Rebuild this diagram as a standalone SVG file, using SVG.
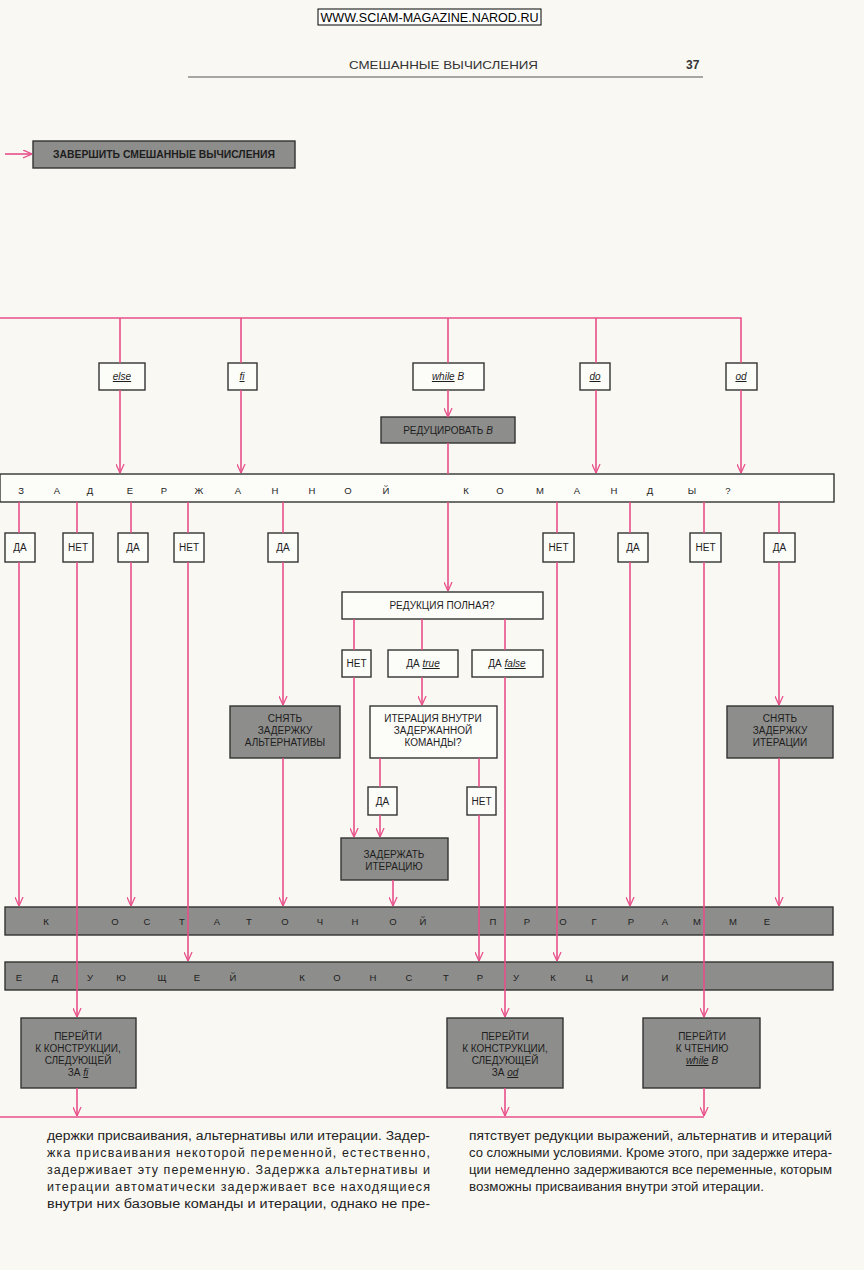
<svg xmlns="http://www.w3.org/2000/svg" width="864" height="1270" viewBox="0 0 864 1270">
<defs>
<marker id="ar" viewBox="0 0 10 10" refX="10" refY="5" markerWidth="9" markerHeight="9" markerUnits="userSpaceOnUse" orient="auto">
<path d="M0,0.5 L10,5 L0,9.5" fill="none" stroke="#e8508a" stroke-width="1.4"/>
</marker>
<style>
.c{fill:none;stroke:#e8508a;stroke-width:1.6}
.ca{fill:none;stroke:#e8508a;stroke-width:1.6;marker-end:url(#ar)}
.g{fill:#8d8d8b;stroke:#333;stroke-width:1.4}
.w{fill:#fcfcf9;stroke:#333;stroke-width:1.4}
.t{font-family:"Liberation Sans",Arial,sans-serif;font-size:10px;fill:#1e1e1e;text-anchor:middle}
.b{font-family:"Liberation Sans",Arial,sans-serif;font-size:9.5px;fill:#1e1e1e;text-anchor:middle}
.i{font-style:italic;text-decoration:underline}
.it{font-style:italic}
.p{font-family:"Liberation Sans",Arial,sans-serif;font-size:12.5px;fill:#222}
</style>
</defs>
<rect x="0" y="0" width="864" height="1270" fill="#f9f8f3"/>

<g id="header">
<rect x="318" y="9" width="223" height="16" fill="#fff" stroke="#000" stroke-width="1"/>
<text x="429.5" y="22" font-family="Liberation Sans,Arial,sans-serif" font-size="13" text-anchor="middle" textLength="218" lengthAdjust="spacingAndGlyphs" fill="#000">WWW.SCIAM-MAGAZINE.NAROD.RU</text>
<text x="349" y="69" font-family="Liberation Sans,Arial,sans-serif" font-size="11.5" textLength="189" lengthAdjust="spacingAndGlyphs" fill="#333">СМЕШАННЫЕ ВЫЧИСЛЕНИЯ</text>
<text x="686" y="69" font-family="Liberation Sans,Arial,sans-serif" font-size="12" font-weight="bold" fill="#333">37</text>
<line x1="188" y1="77" x2="703" y2="77" stroke="#555" stroke-width="1.2"/>
</g>

<g id="finish">
<rect class="g" x="33" y="141" width="262" height="27"/>
<text class="t" x="164" y="158" font-weight="bold" textLength="222" lengthAdjust="spacingAndGlyphs">ЗАВЕРШИТЬ СМЕШАННЫЕ ВЫЧИСЛЕНИЯ</text>
</g>

<g id="kw-else"><rect class="w" x="99" y="363" width="46" height="27"/><text class="t" x="122" y="380"><tspan class="i">else</tspan></text></g>
<g id="kw-fi"><rect class="w" x="228" y="363" width="29" height="27"/><text class="t" x="242" y="380"><tspan class="i">fi</tspan></text></g>
<g id="kw-while"><rect class="w" x="413" y="363" width="71" height="27"/><text class="t" x="448" y="380"><tspan class="i">while</tspan><tspan class="it"> B</tspan></text></g>
<g id="kw-do"><rect class="w" x="580" y="363" width="30" height="27"/><text class="t" x="595" y="380"><tspan class="i">do</tspan></text></g>
<g id="kw-od"><rect class="w" x="726" y="363" width="31" height="27"/><text class="t" x="741" y="380"><tspan class="i">od</tspan></text></g>

<g id="reduce"><rect class="g" x="381" y="417" width="134" height="26"/><text class="t" x="448" y="434">РЕДУЦИРОВАТЬ <tspan class="it">B</tspan></text></g>

<g id="bar-delayed">
<rect class="w" x="0" y="474" width="834" height="28"/>
<text class="b" y="494" x="21 57 90 130 164 199 238 275 312 348 386 466 500 540 577 614 650 692 728">ЗАДЕРЖАННОЙКОМАНДЫ?</text>
</g>

<g id="y1"><rect class="w" x="5" y="533" width="30" height="29"/><text class="t" x="20" y="551">ДА</text></g>
<g id="n1"><rect class="w" x="63" y="533" width="30" height="29"/><text class="t" x="78" y="551">НЕТ</text></g>
<g id="y2"><rect class="w" x="118" y="533" width="30" height="29"/><text class="t" x="133" y="551">ДА</text></g>
<g id="n2"><rect class="w" x="174" y="533" width="30" height="29"/><text class="t" x="189" y="551">НЕТ</text></g>
<g id="y3"><rect class="w" x="268" y="533" width="30" height="29"/><text class="t" x="283" y="551">ДА</text></g>
<g id="n3"><rect class="w" x="543" y="533" width="31" height="29"/><text class="t" x="558.5" y="551">НЕТ</text></g>
<g id="y4"><rect class="w" x="618" y="533" width="30" height="29"/><text class="t" x="633" y="551">ДА</text></g>
<g id="n4"><rect class="w" x="690" y="533" width="31" height="29"/><text class="t" x="705.5" y="551">НЕТ</text></g>
<g id="y5"><rect class="w" x="764" y="533" width="31" height="29"/><text class="t" x="779.5" y="551">ДА</text></g>

<g id="full"><rect class="w" x="342" y="592" width="201" height="27"/><text class="t" x="442" y="609">РЕДУКЦИЯ ПОЛНАЯ?</text></g>
<g id="full-no"><rect class="w" x="342" y="650" width="29" height="27"/><text class="t" x="356.5" y="667">НЕТ</text></g>
<g id="full-true"><rect class="w" x="388" y="650" width="70" height="27"/><text class="t" x="423" y="667">ДА <tspan class="i">true</tspan></text></g>
<g id="full-false"><rect class="w" x="472" y="650" width="71" height="27"/><text class="t" x="507" y="667">ДА <tspan class="i">false</tspan></text></g>

<g id="undelay-alt"><rect class="g" x="230" y="706" width="110" height="52"/><text class="t" x="285" y="722">СНЯТЬ</text><text class="t" x="285" y="734">ЗАДЕРЖКУ</text><text class="t" x="285" y="746">АЛЬТЕРНАТИВЫ</text></g>
<g id="iter-inside"><rect class="w" x="370" y="706" width="127" height="52"/><text class="t" x="433" y="722">ИТЕРАЦИЯ ВНУТРИ</text><text class="t" x="433" y="734">ЗАДЕРЖАННОЙ</text><text class="t" x="433" y="746">КОМАНДЫ?</text></g>
<g id="undelay-iter"><rect class="g" x="727" y="706" width="106" height="52"/><text class="t" x="780" y="722">СНЯТЬ</text><text class="t" x="780" y="734">ЗАДЕРЖКУ</text><text class="t" x="780" y="746">ИТЕРАЦИИ</text></g>

<g id="iter-yes"><rect class="w" x="368" y="787" width="29" height="28"/><text class="t" x="382.5" y="805">ДА</text></g>
<g id="iter-no"><rect class="w" x="467" y="787" width="29" height="28"/><text class="t" x="481.5" y="805">НЕТ</text></g>

<g id="delay-iter"><rect class="g" x="341" y="838" width="107" height="42"/><text class="t" x="394" y="858">ЗАДЕРЖАТЬ</text><text class="t" x="394" y="870">ИТЕРАЦИЮ</text></g>

<g id="bar-rest">
<rect class="g" x="5" y="907" width="828" height="28"/>
<text class="b" y="925" x="46 115 147 182 217 249 285 320 355 393 423 493 527 563 594 631 665 697 733 767">КОСТАТОЧНОЙПРОГРАММЕ</text>
</g>

<g id="bar-next">
<rect class="g" x="5" y="962" width="828" height="28"/>
<text class="b" y="981" x="19 55 90 121 162 197 233 302 337 373 409 446 480 516 553 589 625 665">ЕДУЮЩЕЙКОНСТРУКЦИИ</text>
</g>

<g id="goto-fi"><rect class="g" x="21" y="1018" width="115" height="70"/><text class="t" x="78" y="1040">ПЕРЕЙТИ</text><text class="t" x="78" y="1052">К КОНСТРУКЦИИ,</text><text class="t" x="78" y="1064">СЛЕДУЮЩЕЙ</text><text class="t" x="78" y="1076">ЗА <tspan class="i">fi</tspan></text></g>
<g id="goto-od"><rect class="g" x="447" y="1018" width="116" height="70"/><text class="t" x="505" y="1040">ПЕРЕЙТИ</text><text class="t" x="505" y="1052">К КОНСТРУКЦИИ,</text><text class="t" x="505" y="1064">СЛЕДУЮЩЕЙ</text><text class="t" x="505" y="1076">ЗА <tspan class="i">od</tspan></text></g>
<g id="goto-while"><rect class="g" x="643" y="1018" width="117" height="70"/><text class="t" x="702" y="1040">ПЕРЕЙТИ</text><text class="t" x="702" y="1052">К ЧТЕНИЮ</text><text class="t" x="702" y="1064"><tspan class="i">while</tspan><tspan class="it"> B</tspan></text></g>

<g id="connectors">
<path class="ca" d="M5,154 H32"/>
<path class="c" d="M0,318 H741 V363"/>
<path class="c" d="M120,318 V363"/><path class="ca" d="M120,390 V473"/>
<path class="c" d="M241,318 V363"/><path class="ca" d="M241,390 V473"/>
<path class="c" d="M448,318 V363"/><path class="ca" d="M448,390 V417"/>
<path class="c" d="M596,318 V363"/><path class="ca" d="M596,390 V473"/>
<path class="ca" d="M741,390 V473"/>
<path class="c" d="M448,443 V474"/><path class="ca" d="M448,502 V591"/>

<path class="c" d="M19,502 V533"/><path class="ca" d="M19,562 V906"/>
<path class="c" d="M77,502 V533"/><path class="ca" d="M77,562 V1017"/>
<path class="c" d="M131,502 V533"/><path class="ca" d="M131,562 V906"/>
<path class="c" d="M188,502 V533"/><path class="ca" d="M188,562 V961"/>
<path class="c" d="M283,502 V533"/><path class="ca" d="M283,562 V705"/><path class="ca" d="M283,758 V906"/>
<path class="c" d="M557,502 V533"/><path class="ca" d="M557,562 V961"/>
<path class="c" d="M630,502 V533"/><path class="ca" d="M630,562 V906"/>
<path class="c" d="M704,502 V533"/><path class="ca" d="M704,562 V1017"/>
<path class="c" d="M779,502 V533"/><path class="ca" d="M779,562 V705"/><path class="ca" d="M779,758 V906"/>

<path class="c" d="M354,619 V650"/><path class="ca" d="M354,677 V837"/>
<path class="c" d="M422,619 V650"/><path class="ca" d="M422,677 V705"/>
<path class="c" d="M505,619 V650"/><path class="ca" d="M505,677 V1017"/>
<path class="c" d="M380,758 V787"/><path class="ca" d="M380,815 V837"/>
<path class="c" d="M479,758 V787"/><path class="ca" d="M479,815 V961"/>
<path class="ca" d="M393,880 V906"/>

<path class="c" d="M0,1117 H704"/>
<path class="ca" d="M77,1088 V1116"/>
<path class="ca" d="M505,1088 V1116"/>
<path class="ca" d="M704,1088 V1116"/>
</g>

<g id="body-text">
<text class="p" x="47" y="1140" textLength="383" lengthAdjust="spacingAndGlyphs">держки присваивания, альтернативы или итерации. Задер-</text>
<text class="p" x="47" y="1157" textLength="383" lengthAdjust="spacing">жка присваивания некоторой переменной, естественно,</text>
<text class="p" x="47" y="1174" textLength="383" lengthAdjust="spacing">задерживает эту переменную. Задержка альтернативы и</text>
<text class="p" x="47" y="1191" textLength="383" lengthAdjust="spacing">итерации автоматически задерживает все находящиеся</text>
<text class="p" x="47" y="1208" textLength="383" lengthAdjust="spacingAndGlyphs">внутри них базовые команды и итерации, однако не пре-</text>
<text class="p" x="469" y="1140" textLength="363" lengthAdjust="spacingAndGlyphs">пятствует редукции выражений, альтернатив и итераций</text>
<text class="p" x="469" y="1157" textLength="363" lengthAdjust="spacingAndGlyphs">со сложными условиями. Кроме этого, при задержке итера-</text>
<text class="p" x="469" y="1174" textLength="363" lengthAdjust="spacingAndGlyphs">ции немедленно задерживаются все переменные, которым</text>
<text class="p" x="469" y="1191" textLength="295" lengthAdjust="spacingAndGlyphs">возможны присваивания внутри этой итерации.</text>
</g>
</svg>
